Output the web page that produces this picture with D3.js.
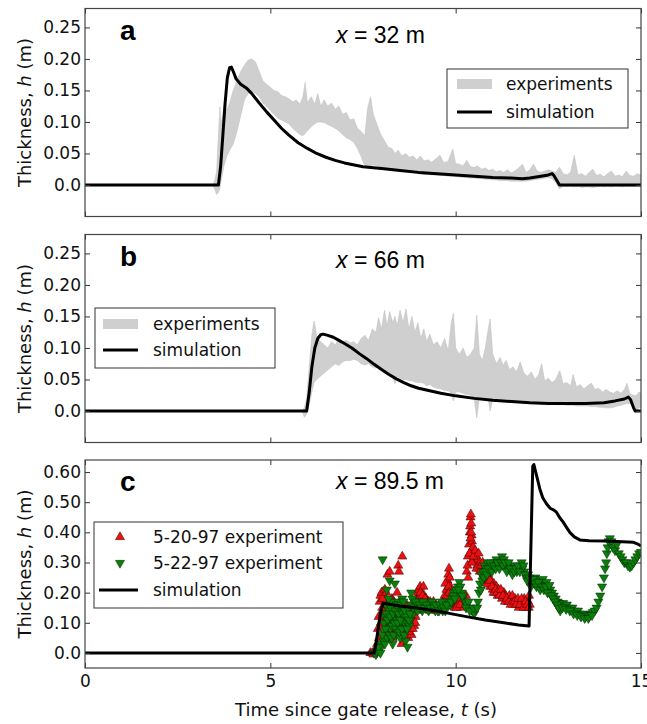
<!DOCTYPE html>
<html>
<head>
<meta charset="utf-8">
<script src="https://cdn.jsdelivr.net/npm/d3@7"></script>
<style>
  body { margin: 0; background: #fff; }
  svg { display: block; }
</style>
</head>
<body>
<svg width="647" height="724"></svg>
<script>
// ---- data ----
var timeTicks = [0, 5, 10, 15];
var hTicksAB = [0, 0.05, 0.10, 0.15, 0.20, 0.25];
var hTickLabelsAB = ["0.0", "0.05", "0.10", "0.15", "0.20", "0.25"];
var hTicksC = [0, 0.1, 0.2, 0.3, 0.4, 0.5, 0.6];
var hTickLabelsC = ["0.0", "0.10", "0.20", "0.30", "0.40", "0.50", "0.60"];
var panelLetters = ["a", "b", "c"];
var panelPositions = ["32", "66", "89.5"];

// simulation, x = 32 m  [t, h]
var simA = [[0,0],[3.6,0],[3.66,0.03],[3.72,0.08],[3.78,0.13],[3.84,0.17],[3.9,0.186],[3.95,0.187],
  [4.0,0.18],[4.08,0.168],[4.2,0.16],[4.35,0.154],[4.5,0.145],[4.7,0.13],[4.9,0.116],[5.1,0.103],
  [5.3,0.09],[5.5,0.079],[5.75,0.067],[6.0,0.058],[6.25,0.05],[6.5,0.044],[6.75,0.039],[7.0,0.035],
  [7.5,0.029],[8.0,0.026],[8.5,0.023],[9.0,0.02],[9.5,0.018],[10.0,0.016],[10.5,0.014],[11.0,0.012],
  [11.5,0.011],[11.8,0.01],[12.0,0.011],[12.3,0.014],[12.5,0.016],[12.6,0.018],[12.65,0.015],
  [12.75,0.005],[12.8,0],[15,0]];

// experiments envelope, x = 32 m  [t, low, high]
var expA = [[3.4,0,0],[3.48,-0.003,0.003],[3.55,-0.015,0.02],[3.6,-0.012,0.08],[3.64,-0.005,0.124],
  [3.68,0.01,0.095],[3.75,0.03,0.125],[3.82,0.045,0.118],[3.9,0.055,0.13],[4.0,0.065,0.15],
  [4.1,0.085,0.165],[4.2,0.11,0.18],[4.3,0.135,0.19],[4.4,0.145,0.198],[4.5,0.148,0.2],
  [4.6,0.145,0.195],[4.7,0.14,0.18],[4.8,0.13,0.165],[4.9,0.125,0.16],[5.0,0.118,0.155],
  [5.1,0.112,0.15],[5.2,0.106,0.148],[5.3,0.103,0.142],[5.4,0.1,0.14],[5.5,0.097,0.137],
  [5.6,0.09,0.132],[5.7,0.085,0.135],[5.8,0.08,0.128],[5.88,0.078,0.14],[5.94,0.082,0.163],
  [6.0,0.086,0.13],[6.1,0.092,0.14],[6.2,0.097,0.128],[6.28,0.1,0.145],[6.36,0.1,0.125],
  [6.45,0.099,0.135],[6.55,0.096,0.125],[6.65,0.093,0.13],[6.75,0.09,0.12],[6.85,0.086,0.125],
  [6.95,0.08,0.112],[7.05,0.075,0.115],[7.15,0.072,0.103],[7.25,0.068,0.105],[7.35,0.058,0.09],
  [7.45,0.045,0.085],[7.55,0.03,0.078],[7.62,0.028,0.12],[7.7,0.03,0.14],[7.78,0.032,0.112],
  [7.88,0.03,0.095],[7.98,0.028,0.08],[8.08,0.027,0.07],[8.18,0.026,0.06],[8.28,0.025,0.058],
  [8.36,0.025,0.05],[8.45,0.023,0.055],[8.55,0.022,0.046],[8.65,0.021,0.05],[8.75,0.02,0.044],
  [8.85,0.019,0.046],[8.95,0.018,0.04],[9.05,0.018,0.046],[9.15,0.017,0.038],[9.25,0.017,0.04],
  [9.35,0.016,0.036],[9.45,0.016,0.041],[9.58,0.015,0.047],[9.68,0.015,0.035],[9.8,0.014,0.038],
  [9.92,0.014,0.057],[10.0,0.013,0.034],[10.1,0.013,0.033],[10.2,0.012,0.03],[10.3,0.012,0.039],
  [10.4,0.011,0.029],[10.5,0.011,0.028],[10.6,0.01,0.03],[10.7,0.01,0.025],[10.8,0.009,0.027],
  [10.9,0.009,0.023],[11.0,0.008,0.025],[11.1,0.008,0.021],[11.2,0.007,0.023],[11.3,0.007,0.02],
  [11.4,0.007,0.024],[11.5,0.006,0.019],[11.6,0.006,0.022],[11.7,0.006,0.027],[11.8,0.006,0.033],
  [11.9,0.006,0.02],[12.0,0.007,0.024],[12.1,0.008,0.033],[12.2,0.009,0.022],[12.3,0.01,0.02],
  [12.4,0.011,0.022],[12.5,0.012,0.024],[12.6,0.01,0.022],[12.7,0.004,0.02],[12.8,-0.006,0.028],
  [12.9,-0.002,0.018],[13.0,-0.003,0.016],[13.1,-0.002,0.02],[13.2,-0.003,0.047],[13.3,-0.002,0.016],
  [13.4,-0.004,0.018],[13.5,-0.003,0.014],[13.6,-0.003,0.02],[13.7,-0.004,0.025],[13.8,-0.003,0.015],
  [13.9,-0.002,0.017],[14.0,-0.003,0.013],[14.1,-0.002,0.018],[14.2,-0.003,0.022],[14.3,-0.002,0.014],
  [14.4,-0.002,0.016],[14.5,-0.003,0.013],[14.6,-0.002,0.022],[14.7,-0.002,0.015],[14.8,-0.002,0.014],
  [14.9,-0.002,0.018],[15.0,-0.002,0.016]];

// simulation, x = 66 m
var simB = [[0,0],[5.98,0],[6.05,0.03],[6.12,0.07],[6.2,0.1],[6.28,0.115],[6.36,0.121],[6.42,0.122],
  [6.55,0.12],[6.7,0.117],[6.85,0.112],[7.0,0.107],[7.2,0.1],[7.4,0.091],[7.6,0.083],[7.8,0.074],
  [8.0,0.066],[8.2,0.058],[8.4,0.051],[8.6,0.045],[8.8,0.04],[9.0,0.036],[9.3,0.032],[9.6,0.028],
  [10.0,0.024],[10.5,0.02],[11.0,0.017],[11.5,0.015],[12.0,0.013],[12.5,0.012],[13.0,0.012],
  [13.5,0.012],[14.0,0.013],[14.3,0.016],[14.55,0.019],[14.66,0.022],[14.72,0.018],[14.8,0.005],
  [14.84,0],[15,0]];

// experiments envelope, x = 66 m
var expB = [[5.85,0,0],[5.92,-0.01,0.005],[5.98,-0.005,0.02],[6.05,0.01,0.07],[6.12,0.03,0.12],
  [6.18,0.045,0.143],[6.25,0.05,0.12],[6.35,0.055,0.11],[6.45,0.06,0.105],[6.55,0.065,0.1],
  [6.65,0.07,0.11],[6.75,0.075,0.105],[6.85,0.072,0.115],[6.95,0.078,0.11],[7.05,0.08,0.112],
  [7.15,0.08,0.108],[7.25,0.082,0.11],[7.35,0.08,0.105],[7.45,0.075,0.115],[7.55,0.073,0.12],
  [7.65,0.075,0.112],[7.75,0.07,0.13],[7.85,0.068,0.125],[7.92,0.07,0.148],[8.0,0.066,0.13],
  [8.08,0.065,0.16],[8.15,0.06,0.135],[8.22,0.058,0.158],[8.3,0.055,0.14],[8.36,0.043,0.15],
  [8.42,0.055,0.135],[8.5,0.052,0.16],[8.58,0.05,0.14],[8.66,0.05,0.162],[8.74,0.048,0.13],
  [8.82,0.048,0.15],[8.9,0.046,0.125],[8.98,0.045,0.14],[9.06,0.045,0.115],[9.14,0.044,0.13],
  [9.22,0.04,0.11],[9.3,0.042,0.122],[9.4,0.038,0.105],[9.5,0.036,0.11],[9.6,0.035,0.1],
  [9.7,0.033,0.115],[9.8,0.032,0.095],[9.88,0.028,0.14],[9.94,0.016,0.155],[10.0,0.03,0.1],
  [10.1,0.03,0.09],[10.2,0.028,0.1],[10.3,0.026,0.085],[10.4,0.025,0.09],[10.5,0.02,0.1],
  [10.57,-0.011,0.152],[10.64,0.022,0.09],[10.72,0.02,0.08],[10.8,0.02,0.1],[10.88,0.018,0.13],
  [10.93,0.0,0.146],[11.0,0.018,0.09],[11.1,0.018,0.075],[11.2,0.017,0.085],[11.28,0.017,0.072],
  [11.36,0.016,0.08],[11.45,0.015,0.066],[11.55,0.015,0.07],[11.64,0.014,0.062],[11.74,0.014,0.078],
  [11.84,0.013,0.06],[11.94,0.013,0.055],[12.04,0.013,0.062],[12.14,0.012,0.05],[12.24,0.012,0.058],
  [12.32,0.011,0.075],[12.4,0.012,0.048],[12.5,0.011,0.052],[12.6,0.011,0.045],[12.7,0.01,0.05],
  [12.81,0.01,0.064],[12.9,0.01,0.043],[13.0,0.009,0.045],[13.1,0.009,0.04],[13.17,0.009,0.058],
  [13.26,0.008,0.038],[13.36,0.008,0.042],[13.46,0.008,0.035],[13.56,0.008,0.04],[13.66,0.007,0.044],
  [13.76,0.007,0.034],[13.86,0.006,0.036],[13.96,0.006,0.03],[14.06,0.005,0.034],[14.16,0.005,0.03],
  [14.26,0.006,0.028],[14.36,0.008,0.032],[14.46,0.009,0.028],[14.56,0.011,0.035],[14.62,0.012,0.044],
  [14.7,0.012,0.027],[14.8,0.006,0.025],[14.87,0.0,0.024],[14.94,0.005,0.03],[15.0,0.006,0.028]];

// simulation, x = 89.5 m
var simC = [[0,0],[7.8,0],[7.85,0.03],[7.92,0.09],[7.98,0.14],[8.05,0.165],[8.5,0.156],[9.0,0.148],
  [9.5,0.139],[10.0,0.127],[10.4,0.118],[10.8,0.109],[11.3,0.1],[11.7,0.093],[11.98,0.089],
  [12.08,0.62],[12.11,0.625],[12.2,0.58],[12.27,0.544],[12.35,0.515],[12.45,0.495],[12.55,0.48],
  [12.65,0.474],[12.72,0.467],[12.8,0.45],[12.9,0.434],[13.0,0.415],[13.08,0.4],[13.2,0.385],
  [13.35,0.375],[13.6,0.372],[14.0,0.371],[14.5,0.369],[14.8,0.367],[14.9,0.362],[15.0,0.355]];

// 5-20-97 experiment [t, h]
var exp52097 = [[7.7,0],[7.75,0],[7.78,-0.005],[7.82,0.002],[7.85,0.005],[7.88,0.03],[7.9,0.08],
  [7.92,0.12],[7.95,0.17],[7.97,0.19],[8.0,0.2],[8.02,0.15],[8.04,0.1],[8.05,0.06],[8.07,0.13],
  [8.09,0.21],[8.1,0.18],[8.12,0.11],[8.14,0.07],[8.16,0.26],[8.18,0.16],[8.2,0.12],[8.22,0.27],
  [8.24,0.09],[8.26,0.14],[8.28,0.18],[8.3,0.05],[8.32,0.13],[8.35,0.1],[8.38,0.15],[8.4,0.08],
  [8.42,0.2],[8.45,0.29],[8.47,0.27],[8.48,0.12],[8.5,0.06],[8.52,0.16],[8.54,0.03],[8.56,0.32],
  [8.58,0.1],[8.6,0.14],[8.62,0.07],[8.65,0.11],[8.68,0.13],[8.7,0.09],[8.72,0.05],[8.75,0.12],
  [8.78,0.08],[8.81,0.06],[8.83,0.1],[8.86,0.13],[8.88,0.09],[8.9,0.16],[8.92,0.12],[8.95,0.18],
  [8.98,0.2],[9.0,0.21],[9.02,0.19],[9.04,0.22],[9.06,0.18],[9.08,0.2],[9.1,0.17],[9.13,0.22],
  [9.15,0.19],[9.18,0.16],[9.2,0.18],[9.23,0.15],[9.26,0.17],[9.3,0.14],[9.33,0.16],[9.36,0.15],
  [9.4,0.17],[9.43,0.15],[9.46,0.16],[9.5,0.14],[9.53,0.15],[9.56,0.16],[9.6,0.15],[9.65,0.17],
  [9.7,0.19],[9.75,0.21],[9.78,0.24],[9.8,0.26],[9.82,0.28],[9.84,0.25],[9.86,0.22],[9.88,0.2],
  [9.9,0.18],[9.93,0.17],[9.95,0.16],[9.98,0.15],[10.0,0.17],[10.05,0.16],[10.1,0.18],[10.15,0.15],
  [10.2,0.17],[10.25,0.16],[10.28,0.19],[10.3,0.27],[10.32,0.29],[10.33,0.32],[10.36,0.36],
  [10.38,0.4],[10.39,0.42],[10.4,0.45],[10.41,0.46],[10.42,0.43],[10.43,0.39],[10.44,0.37],
  [10.45,0.34],[10.46,0.31],[10.47,0.35],[10.5,0.33],[10.52,0.3],[10.55,0.32],[10.58,0.29],
  [10.6,0.31],[10.63,0.28],[10.66,0.3],[10.7,0.27],[10.72,0.29],[10.75,0.26],[10.78,0.28],
  [10.8,0.25],[10.83,0.24],[10.86,0.26],[10.9,0.23],[10.93,0.22],[10.96,0.24],[11.0,0.21],
  [11.03,0.23],[11.06,0.2],[11.1,0.22],[11.13,0.19],[11.16,0.21],[11.2,0.2],[11.25,0.18],
  [11.3,0.2],[11.35,0.19],[11.4,0.17],[11.45,0.19],[11.5,0.18],[11.55,0.16],[11.6,0.18],
  [11.65,0.17],[11.7,0.15],[11.75,0.17],[11.8,0.16],[11.85,0.18],[11.9,0.15],[11.95,0.17],
  [11.98,0.19],[12.0,0.16],
  [7.93,0.05],[7.98,0.1],[8.03,0.18],[8.06,0.09],[8.11,0.15],[8.13,0.2],[8.19,0.08],[8.21,0.17],
  [8.25,0.11],[8.29,0.09],[8.33,0.17],[8.36,0.06],[8.39,0.12],[8.44,0.1],[8.49,0.17],[8.53,0.09],
  [8.57,0.12],[8.61,0.15],[8.64,0.08],[8.67,0.16],[8.71,0.11],[8.74,0.07],[8.77,0.15],[8.8,0.11],
  [8.84,0.08],[8.87,0.15],[8.91,0.1],[8.94,0.14],[8.97,0.16],[9.01,0.18],[9.05,0.2],[9.11,0.19],
  [9.17,0.18],[9.24,0.16],[9.31,0.17],[9.38,0.16],[9.48,0.15],[9.58,0.14],[9.72,0.23],[9.76,0.19],
  [9.81,0.22],[9.83,0.2],[10.02,0.15],[10.12,0.16],[10.22,0.18],[10.34,0.25],[10.37,0.33],[10.4,0.38],
  [10.42,0.4],[10.44,0.3],[10.48,0.32],[10.53,0.34],[10.56,0.28],[10.62,0.33],[10.65,0.27],
  [10.68,0.29],[10.73,0.3],[10.76,0.24],[10.81,0.27],[10.85,0.23],[10.88,0.25],[10.92,0.24],
  [10.98,0.22],[11.02,0.2],[11.08,0.21],[11.12,0.2],[11.18,0.19],[11.22,0.21],[11.28,0.19],
  [11.33,0.17],[11.38,0.18],[11.43,0.17],[11.48,0.16],[11.53,0.19],[11.58,0.17],[11.63,0.16],
  [11.68,0.18],[11.73,0.16],[11.78,0.18],[11.83,0.15],[11.88,0.17],[11.93,0.16],[11.97,0.15]];

// 5-22-97 experiment [t, h]
var exp52297 = [[7.8,0],[7.85,-0.005],[7.9,0.01],[7.95,0.03],[8.0,0.02],[8.03,0.31],[8.05,0.04],
  [8.08,0.07],[8.1,0.12],[8.12,0.16],[8.14,0.21],[8.15,0.05],[8.18,0.1],[8.2,0.14],[8.22,0.24],
  [8.24,0.08],[8.26,0.17],[8.28,0.12],[8.3,0.03],[8.32,0.09],[8.34,0.15],[8.36,0.23],[8.38,0.11],
  [8.4,0.06],[8.42,0.13],[8.45,0.17],[8.47,0.09],[8.5,0.05],[8.52,0.14],[8.54,0.11],[8.56,0.18],
  [8.58,0.08],[8.6,0.12],[8.62,0.1],[8.65,0.04],[8.68,0.1],[8.7,0.02],[8.72,0.13],[8.75,0.09],
  [8.78,0.11],[8.8,0.2],[8.82,0.16],[8.85,0.13],[8.88,0.17],[8.9,0.15],[8.95,0.16],[9.0,0.15],
  [9.05,0.17],[9.1,0.14],[9.15,0.16],[9.2,0.15],[9.25,0.17],[9.3,0.16],[9.35,0.15],[9.4,0.16],
  [9.45,0.14],[9.5,0.15],[9.55,0.14],[9.6,0.15],[9.65,0.14],[9.7,0.16],[9.8,0.17],[9.85,0.16],
  [9.9,0.18],[9.95,0.2],[10.0,0.21],[10.03,0.19],[10.06,0.22],[10.1,0.235],[10.13,0.22],
  [10.16,0.2],[10.2,0.185],[10.25,0.17],[10.3,0.16],[10.35,0.17],[10.4,0.15],[10.45,0.14],
  [10.5,0.13],[10.55,0.145],[10.6,0.17],[10.63,0.2],[10.66,0.23],[10.7,0.26],[10.74,0.27],
  [10.78,0.29],[10.82,0.28],[10.86,0.3],[10.9,0.27],[10.95,0.29],[11.0,0.28],[11.05,0.3],
  [11.1,0.31],[11.15,0.29],[11.2,0.3],[11.25,0.32],[11.3,0.31],[11.35,0.29],[11.4,0.28],
  [11.45,0.29],[11.5,0.27],[11.55,0.28],[11.6,0.29],[11.65,0.27],[11.7,0.28],[11.75,0.29],
  [11.8,0.28],[11.85,0.27],[11.9,0.25],[11.95,0.26],[12.0,0.24],[12.05,0.23],[12.1,0.235],
  [12.15,0.25],[12.2,0.24],[12.25,0.22],[12.3,0.23],[12.35,0.245],[12.4,0.225],[12.45,0.235],
  [12.5,0.22],[12.55,0.21],[12.6,0.2],[12.65,0.19],[12.7,0.18],[12.75,0.17],[12.8,0.165],
  [12.82,0.14],[12.85,0.16],[12.9,0.165],[12.95,0.155],[13.0,0.16],[13.05,0.15],[13.1,0.145],
  [13.15,0.15],[13.2,0.14],[13.25,0.135],[13.3,0.14],[13.35,0.13],[13.4,0.125],[13.45,0.13],
  [13.5,0.12],[13.55,0.125],[13.6,0.12],[13.65,0.13],[13.7,0.135],[13.75,0.14],[13.8,0.15],
  [13.85,0.17],[13.9,0.19],[13.95,0.22],[14.0,0.25],[14.03,0.28],[14.06,0.3],[14.08,0.33],
  [14.1,0.35],[14.13,0.37],[14.16,0.38],[14.2,0.37],[14.25,0.35],[14.3,0.34],[14.35,0.36],
  [14.4,0.33],[14.45,0.32],[14.5,0.31],[14.55,0.3],[14.6,0.3],[14.65,0.29],[14.7,0.285],
  [14.75,0.29],[14.8,0.3],[14.85,0.31],[14.9,0.32],[14.95,0.33],[15.0,0.335],
  [7.87,0.005],[7.92,0.02],[7.97,0.0],[8.02,0.06],[8.06,0.1],[8.09,0.03],[8.11,0.08],[8.13,0.13],
  [8.16,0.11],[8.19,0.18],[8.21,0.06],[8.23,0.12],[8.25,0.15],[8.27,0.05],[8.29,0.09],[8.31,0.13],
  [8.33,0.06],[8.35,0.1],[8.37,0.14],[8.39,0.08],[8.41,0.16],[8.43,0.1],[8.46,0.13],[8.48,0.07],
  [8.51,0.11],[8.53,0.16],[8.55,0.08],[8.57,0.13],[8.59,0.17],[8.61,0.06],[8.63,0.14],[8.66,0.12],
  [8.69,0.08],[8.71,0.15],[8.74,0.11],[8.77,0.13],[8.79,0.16],[8.83,0.18],[8.86,0.15],[8.92,0.17],
  [8.97,0.14],[9.02,0.16],[9.07,0.15],[9.12,0.17],[9.17,0.15],[9.22,0.16],[9.27,0.14],[9.32,0.15],
  [9.37,0.17],[9.42,0.15],[9.47,0.16],[9.52,0.14],[9.57,0.16],[9.62,0.17],[9.67,0.15],[9.72,0.14],
  [9.76,0.16],[9.88,0.17],[9.93,0.19],[9.98,0.18],[10.08,0.21],[10.18,0.19],[10.28,0.15],
  [10.38,0.14],[10.48,0.15],[10.58,0.15],[10.68,0.21],[10.72,0.24],[10.76,0.25],[10.8,0.27],
  [10.84,0.26],[10.88,0.28],[10.93,0.3],[10.98,0.27],[11.03,0.29],[11.08,0.28],[11.13,0.3],
  [11.18,0.28],[11.23,0.3],[11.28,0.29],[11.33,0.3],[11.38,0.27],[11.43,0.3],[11.48,0.28],
  [11.53,0.26],[11.58,0.27],[11.63,0.28],[11.68,0.29],[11.73,0.27],[11.78,0.3],[11.83,0.29],
  [11.88,0.26],[11.93,0.24],[11.98,0.25],[12.03,0.22],[12.08,0.245],[12.13,0.23],[12.18,0.22],
  [12.23,0.235],[12.28,0.21],[12.33,0.22],[12.38,0.21],[12.43,0.22],[12.48,0.2],[12.53,0.225],
  [12.58,0.19],[12.63,0.18],[12.68,0.17],[12.73,0.16],[12.78,0.15],[12.88,0.15],[12.98,0.145],
  [13.08,0.14],[13.18,0.13],[13.28,0.125],[13.38,0.12],[13.48,0.115],[13.58,0.115],[13.68,0.125]];

// ---- layout ----
var svg = d3.select("svg"),
    left = 85, right = 641, ph = 208,
    tickFont = "'DejaVu Sans', sans-serif",
    titleFont = "'Liberation Sans', Arial, sans-serif";

svg.append("rect").attr("width", 647).attr("height", 724).attr("fill", "#fff");

var x = d3.scaleLinear().domain([0, 15]).range([left, right]);

var panels = [
  {top: 8.5, dom: [-0.05, 0.28], ticks: hTicksAB, labels: hTickLabelsAB, sim: simA, band: expA, titleDy: 34},
  {top: 234.5, dom: [-0.05, 0.28], ticks: hTicksAB, labels: hTickLabelsAB, sim: simB, band: expB, titleDy: 33},
  {top: 460, dom: [-0.05, 0.64], ticks: hTicksC, labels: hTickLabelsC, sim: simC, band: null, titleDy: 28.5}
];

panels.forEach(function(p, i) {
  var y = d3.scaleLinear().domain(p.dom).range([p.top + ph, p.top]);
  var g = svg.append("g");

  var clipId = "clip" + i;
  svg.append("clipPath").attr("id", clipId)
    .append("rect").attr("x", left).attr("y", p.top).attr("width", right - left).attr("height", ph);

  var plot = g.append("g").attr("clip-path", "url(#" + clipId + ")");

  if (p.band) {
    var area = d3.area()
        .x(function(d) { return x(d[0]); })
        .y0(function(d) { return y(d[1]); })
        .y1(function(d) { return y(d[2]); });
    plot.append("path").datum(p.band)
      .attr("fill", "#cfcfcf")
      .attr("stroke", "#c2c2c2")
      .attr("stroke-width", 0.6)
      .attr("d", area);
  }

  if (i == 2) {
    var tri = d3.symbol().type(d3.symbolTriangle).size(36);
    plot.selectAll(".red").data(exp52097).enter().append("path")
      .attr("d", tri)
      .attr("transform", function(d) { return "translate(" + x(d[0]) + "," + y(d[1]) + ")"; })
      .attr("fill", "#ee1111").attr("stroke", "#3a0000").attr("stroke-width", 0.5);
    plot.selectAll(".grn").data(exp52297).enter().append("path")
      .attr("d", tri)
      .attr("transform", function(d) { return "translate(" + x(d[0]) + "," + y(d[1]) + ") rotate(180)"; })
      .attr("fill", "#0a7d0a").attr("stroke", "#002800").attr("stroke-width", 0.5);
  }

  var line = d3.line()
      .x(function(d) { return x(d[0]); })
      .y(function(d) { return y(d[1]); });
  plot.append("path").datum(p.sim)
    .attr("fill", "none")
    .attr("stroke", "#000")
    .attr("stroke-width", 3)
    .attr("stroke-linejoin", "round")
    .attr("d", line);

  // axes with inward ticks on all four sides
  var axL = g.append("g").attr("transform", "translate(" + left + ",0)")
    .call(d3.axisLeft(y).tickValues(p.ticks).tickSize(-5).tickPadding(4)
      .tickFormat(function(d, k) { return p.labels[k]; }));
  var axR = g.append("g").attr("transform", "translate(" + right + ",0)")
    .call(d3.axisRight(y).tickValues(p.ticks).tickSize(-5).tickFormat(""));
  var axT = g.append("g").attr("transform", "translate(0," + p.top + ")")
    .call(d3.axisTop(x).tickValues(timeTicks).tickSize(-5).tickFormat(""));
  var axB = g.append("g").attr("transform", "translate(0," + (p.top + ph) + ")")
    .call(d3.axisBottom(x).tickValues(timeTicks).tickSize(-5).tickPadding(7)
      .tickFormat(i == 2 ? d3.format("d") : ""));
  [axL, axR, axT, axB].forEach(function(a) {
    a.select(".domain").remove();
    a.selectAll("line").attr("stroke", "#333");
    a.selectAll("text").attr("font-family", tickFont).attr("font-size", 17).attr("fill", "#111");
  });

  g.append("rect")
    .attr("x", left).attr("y", p.top).attr("width", right - left).attr("height", ph)
    .attr("fill", "none").attr("stroke", "#444").attr("stroke-width", 1.2);

  // panel letter and position title
  g.append("text").attr("x", 120).attr("y", p.top + 31)
    .attr("font-family", titleFont).attr("font-weight", "bold").attr("font-size", 28)
    .attr("fill", "#000").text(panelLetters[i]);
  var t = g.append("text").attr("x", 336).attr("y", p.top + p.titleDy)
    .attr("font-family", titleFont).attr("font-size", 23).attr("fill", "#000");
  t.append("tspan").attr("font-style", "italic").text("x");
  t.append("tspan").text(" = " + panelPositions[i] + " m");

  // y label
  var yl = g.append("text")
    .attr("transform", "translate(25," + (p.top + ph / 2) + ") rotate(-90)")
    .attr("text-anchor", "middle").attr("dy", "0.35em")
    .attr("font-family", tickFont).attr("font-size", 18).attr("fill", "#111");
  yl.append("tspan").text("Thickness, ");
  yl.append("tspan").attr("font-style", "italic").text("h");
  yl.append("tspan").text(" (m)");
});

// x label
var xl = svg.append("text").attr("x", 366).attr("y", 716)
  .attr("text-anchor", "middle")
  .attr("font-family", tickFont).attr("font-size", 18).attr("fill", "#111");
xl.append("tspan").text("Time since gate release, ");
xl.append("tspan").attr("font-style", "italic").text("t");
xl.append("tspan").text(" (s)");

// legends
function legendBox(x0, y0, w, h) {
  svg.append("rect").attr("x", x0).attr("y", y0).attr("width", w).attr("height", h)
    .attr("fill", "#fff").attr("stroke", "#333").attr("stroke-width", 1);
}
function legendText(x0, yc, s) {
  svg.append("text").attr("x", x0).attr("y", yc).attr("dy", "0.35em")
    .attr("font-family", tickFont).attr("font-size", 17).attr("fill", "#111").text(s);
}
// a
legendBox(447, 69, 181, 59);
svg.append("rect").attr("x", 457).attr("y", 79).attr("width", 35).attr("height", 10).attr("fill", "#cfcfcf");
legendText(506, 84, "experiments");
svg.append("line").attr("x1", 457).attr("x2", 492).attr("y1", 112).attr("y2", 112)
  .attr("stroke", "#000").attr("stroke-width", 3);
legendText(506, 112, "simulation");
// b
legendBox(95, 308, 180, 60);
svg.append("rect").attr("x", 103).attr("y", 319).attr("width", 35).attr("height", 10).attr("fill", "#cfcfcf");
legendText(153, 324, "experiments");
svg.append("line").attr("x1", 103).attr("x2", 138).attr("y1", 350).attr("y2", 350)
  .attr("stroke", "#000").attr("stroke-width", 3);
legendText(153, 350, "simulation");
// c
legendBox(94, 522, 249, 86);
var legTri = d3.symbol().type(d3.symbolTriangle).size(36);
svg.append("path").attr("d", legTri).attr("transform", "translate(120,537)")
  .attr("fill", "#ee1111").attr("stroke", "#3a0000").attr("stroke-width", 0.5);
legendText(153, 537, "5-20-97 experiment");
svg.append("path").attr("d", legTri).attr("transform", "translate(120,563) rotate(180)")
  .attr("fill", "#0a7d0a").attr("stroke", "#002800").attr("stroke-width", 0.5);
legendText(153, 563, "5-22-97 experiment");
svg.append("line").attr("x1", 99).attr("x2", 138).attr("y1", 590).attr("y2", 590)
  .attr("stroke", "#000").attr("stroke-width", 3);
legendText(153, 590, "simulation");
</script>
</body>
</html>
